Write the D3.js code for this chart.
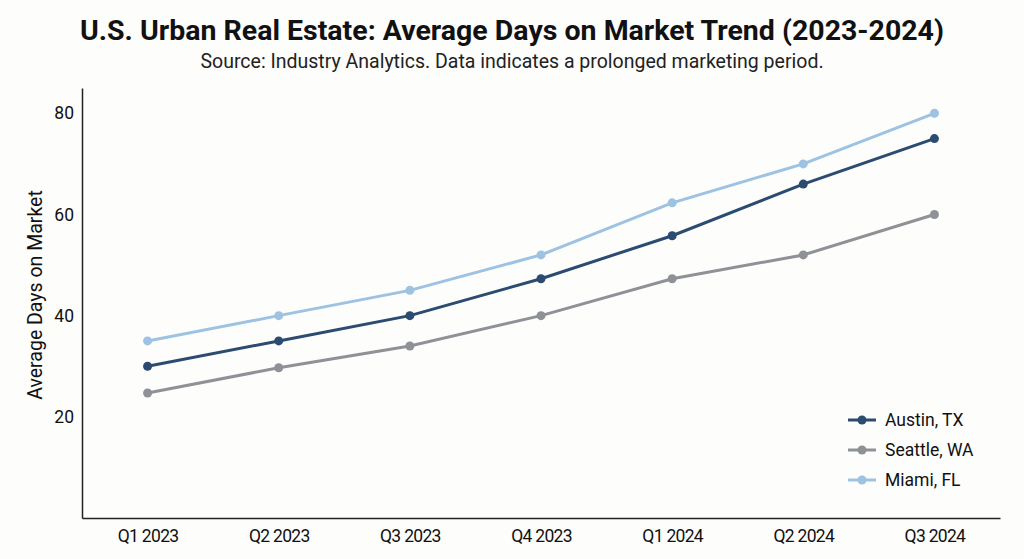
<!DOCTYPE html>
<html>
<head>
<meta charset="utf-8">
<script src="https://cdn.jsdelivr.net/npm/d3@7"></script>
<style>
  body { margin: 0; background: #fdfdfc; font-family: Roboto, "Noto Sans", sans-serif; }
</style>
</head>
<body>
<div id="chart"></div>
<script>
// data
const quarters = ['Q1 2023', 'Q2 2023', 'Q3 2023', 'Q4 2023', 'Q1 2024', 'Q2 2024', 'Q3 2024'];
const austin = [30, 35, 40, 47.3, 55.8, 66, 75];
const seattle = [24.7, 29.7, 34, 40, 47.3, 52, 60];
const miami = [35, 40, 45, 52, 62.3, 70, 80];
const cities = ['Austin, TX', 'Seattle, WA', 'Miami, FL'];
const yTicks = [20, 40, 60, 80];

const w = 1024;
const h = 559;
const margin = { top: 88, right: 24, bottom: 41, left: 82 };

const series = [
  { name: cities[0], values: austin, color: '#2b4b70' },
  { name: cities[1], values: seattle, color: '#8e9196' },
  { name: cities[2], values: miami, color: '#9dc2e2' },
];

const svg = d3.select('#chart').append('svg')
  .attr('width', w)
  .attr('height', h);

// scales
const x = d3.scalePoint(quarters, [margin.left, w - margin.right]).padding(0.5);
const y = d3.scaleLinear([0, 85], [h - margin.bottom, margin.top]);

// titles
svg.append('text')
  .attr('x', w / 2).attr('y', 40)
  .attr('text-anchor', 'middle')
  .style('font-size', '28.5px').style('font-weight', 'bold').style('fill', '#111')
  .text('U.S. Urban Real Estate: Average Days on Market Trend (2023-2024)');
svg.append('text')
  .attr('x', w / 2).attr('y', 68)
  .attr('text-anchor', 'middle')
  .style('font-size', '19.5px').style('fill', '#222')
  .text('Source: Industry Analytics. Data indicates a prolonged marketing period.');

// axes
const xAxis = svg.append('g')
  .attr('transform', `translate(0, ${h - margin.bottom})`)
  .call(d3.axisBottom(x).tickSize(0).tickPadding(12));
const yAxis = svg.append('g')
  .attr('transform', `translate(${margin.left}, 0)`)
  .call(d3.axisLeft(y).tickValues(yTicks).tickSize(0).tickPadding(8));

[xAxis, yAxis].forEach((g) => {
  g.select('.domain').attr('stroke', '#222').attr('stroke-width', 1.5);
  g.selectAll('text').style('font-size', '17.5px').style('fill', '#111')
    .style('font-family', 'Roboto, sans-serif');
});
xAxis.selectAll('text').style('letter-spacing', '-0.7px');

svg.append('text')
  .attr('transform', `translate(42, ${(margin.top + h - margin.bottom) / 2 - 8}) rotate(-90)`)
  .attr('text-anchor', 'middle')
  .style('font-size', '19.5px').style('fill', '#111')
  .text('Average Days on Market');

// lines
const line = d3.line()
  .x((d, i) => x(quarters[i]))
  .y((d) => y(d));

series.forEach((s) => {
  svg.append('path')
    .datum(s.values)
    .attr('d', line)
    .attr('fill', 'none')
    .attr('stroke', s.color)
    .attr('stroke-width', 3);
  svg.selectAll(null)
    .data(s.values)
    .enter()
    .append('circle')
    .attr('cx', (d, i) => x(quarters[i]))
    .attr('cy', (d) => y(d))
    .attr('r', 4.5)
    .attr('fill', s.color);
});

// legend
const legend = svg.append('g').attr('transform', 'translate(848, 420)');
series.forEach((s, i) => {
  const row = legend.append('g').attr('transform', `translate(0, ${i * 30})`);
  row.append('line').attr('x1', 0).attr('x2', 28)
    .attr('stroke', s.color).attr('stroke-width', 3);
  row.append('circle').attr('cx', 14).attr('r', 4.5).attr('fill', s.color);
  row.append('text').attr('x', 37).attr('dy', '0.35em')
    .style('font-size', '17.5px').style('fill', '#111')
    .text(s.name);
});
</script>
</body>
</html>
